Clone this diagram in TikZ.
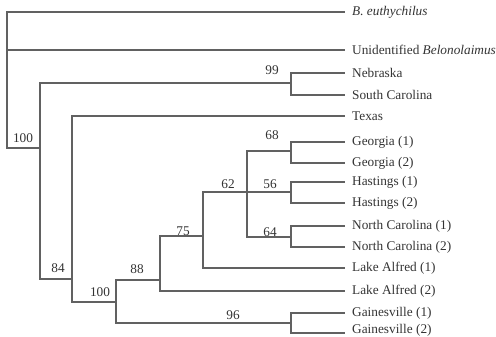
\documentclass[tikz,border=0pt]{standalone}
\usepackage{fontspec}
\setmainfont{Liberation Serif}
\begin{document}
\begin{tikzpicture}[x=1pt,y=-1pt,
  branch/.style={draw=black!62,line width=1.1pt},
  tip/.style={anchor=west,inner xsep=7pt,inner ysep=0pt,text=black!80,font=\fontsize{13.3}{15}\selectfont},
  supp/.style={anchor=center,inner sep=0pt,text=black!80,font=\fontsize{13.3}{15}\selectfont}]
\useasboundingbox (0,0) rectangle (496,337);
% tips
\node[tip] (eut)  at (345,12)  {\itshape B. euthychilus};
\node[tip] (unid) at (345,50)  {Unidentified \textit{Belonolaimus}};
\node[tip] (neb)  at (345,73)  {Nebraska};
\node[tip] (sc)   at (345,95)  {South Carolina};
\node[tip] (tex)  at (345,116) {Texas};
\node[tip] (g1)   at (345,142) {Georgia (1)};
\node[tip] (g2)   at (345,163) {Georgia (2)};
\node[tip] (h1)   at (345,182) {Hastings (1)};
\node[tip] (h2)   at (345,203) {Hastings (2)};
\node[tip] (nc1)  at (345,226) {North Carolina (1)};
\node[tip] (nc2)  at (345,247) {North Carolina (2)};
\node[tip] (la1)  at (345,268) {Lake Alfred (1)};
\node[tip] (la2)  at (345,291) {Lake Alfred (2)};
\node[tip] (gv1)  at (345,313) {Gainesville (1)};
\node[tip] (gv2)  at (345,330.5) {Gainesville (2)};
\coordinate (gv2end) at (345,333);
% internal nodes
\coordinate (root) at (7,50);
\coordinate (nA) at (40,148);
\coordinate (nB) at (291,83);
\coordinate (nC) at (72,279);
\coordinate (nD) at (116,302);
\coordinate (nE) at (291,323);
\coordinate (nF) at (160,280);
\coordinate (nG) at (203,236);
\coordinate (nH) at (247,192);
\coordinate (nI) at (291,151);
\coordinate (nJ) at (291,192);
\coordinate (nK) at (291,237);
% branches
\draw[branch] (root) |- (eut.west);
\draw[branch] (root) |- (unid.west);
\draw[branch] (root) |- (nA);
\draw[branch] (nA) |- (nB);
\draw[branch] (nA) |- (nC);
\draw[branch] (nB) |- (neb.west);
\draw[branch] (nB) |- (sc.west);
\draw[branch] (nC) |- (tex.west);
\draw[branch] (nC) |- (nD);
\draw[branch] (nD) |- (nF);
\draw[branch] (nD) |- (nE);
\draw[branch] (nE) |- (gv1.west);
\draw[branch] (nE) |- (gv2end);
\draw[branch] (nF) |- (nG);
\draw[branch] (nF) |- (la2.west);
\draw[branch] (nG) |- (nH);
\draw[branch] (nG) |- (la1.west);
\draw[branch] (nH) |- (nI);
\draw[branch] (nH) |- (nJ);
\draw[branch] (nH) |- (nK);
\draw[branch] (nI) |- (g1.west);
\draw[branch] (nI) |- (g2.west);
\draw[branch] (nJ) |- (h1.west);
\draw[branch] (nJ) |- (h2.west);
\draw[branch] (nK) |- (nc1.west);
\draw[branch] (nK) |- (nc2.west);
% support values
\node[supp] (sA) at (23,138) {100};
\node[supp] (sB) at (272,70) {99};
\node[supp] (sC) at (58,268) {84};
\node[supp] (sD) at (100,292) {100};
\node[supp] (sE) at (233,315) {96};
\node[supp] (sF) at (137,269) {88};
\node[supp] (sG) at (183,231) {75};
\node[supp] (sH) at (228,184) {62};
\node[supp] (sI) at (272,135) {68};
\node[supp] (sJ) at (270,184) {56};
\node[supp] (sK) at (270,232) {64};
\end{tikzpicture}
\end{document}
